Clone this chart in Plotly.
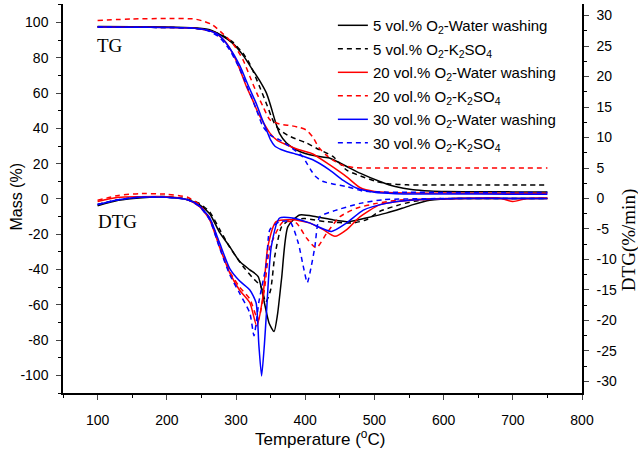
import plotly.graph_objects as go

# ---------------- TG data (Mass %, left axis) ----------------
tg_t_5ww = [100,150,200,240,262,280,295,310,324,335,344,350,356,363,373,387,400,416,435,460,480,508,530,556,580,605,650,700,750]
tg_m_5ww = [97.8,97.6,97.5,97.0,95.9,92.5,88.3,81.5,73.2,66.5,60,53,44.9,37,31.7,27.9,25.8,24.3,23.2,18.4,14.5,9.9,7.0,5.2,4.5,4.2,4.1,4.0,4.0]

tg_t_5ks = [100,150,200,240,260,280,295,310,320,334,345,351,356,363,375,390,402,420,440,460,480,503,520,547,570,600,650,700,750]
tg_m_5ks = [97.5,97.3,97.2,96.8,95.5,92.8,89,82.6,76.5,63.7,53,46.7,42.5,39.2,36,33.5,31.7,28,24.1,16.3,13,9.9,8.6,8.0,7.9,7.9,7.9,7.9,7.9]

tg_t_20ww = [100,150,200,240,260,271,285,295,305,315,324,332,340,349,360,373,390,411,435,460,479,500,530,560,600,650,700,750]
tg_m_20ww = [97.5,97.3,97.2,96.8,95.5,94,89,82.6,74,63.7,56,48.7,43,37.3,33,30.7,28,25.5,19.4,12.5,6.5,4.2,3.5,3.3,3.3,3.2,3.2,3.2]

tg_t_20ks = [100,150,200,240,255,266,280,295,310,320,330,339,349,363,380,392,402,411,420,430,440,455,470,490,520,560,600,650,700,750]
tg_m_20ks = [101.2,102,102.3,102,100.5,98.7,94,88.3,79,69.4,60,52.4,44.9,42.5,41.5,40.5,39,35,29,25,22,19,17.8,17.5,17.5,17.5,17.5,17.5,17.5,17.5]

tg_t_30ww = [100,150,200,240,260,275,290,305,318,329,337,344,350,356,365,373,390,411,435,455,474,500,530,600,700,750]
tg_m_30ww = [97.5,97.3,97.2,96.8,95.5,93,86,76,64,54.3,46,39.2,33.5,30,28,26.9,25,22.2,16.5,10.5,6.2,3.8,3.0,2.8,2.7,2.7]

tg_t_30ks = [100,150,200,240,260,275,290,305,320,330,339,350,363,380,395,402,408,415,425,440,460,483,510,550,600,700,750]
tg_m_30ks = [97.5,97.3,97.2,96.8,95.3,92,85,74,60,50,41,36,33.5,29,24.5,20.5,16.5,12.7,10,8.5,7,4.5,3.9,3.8,3.7,3.7,3.7]

# ---------------- DTG data (%/min, right axis) ----------------
dtg_t_5ww = [100,130,160,200,230,247,262,276,291,305,320,332,341,348,355,360,366,375,392,416,440,464,488,517,540,556,580,620,680,750]
dtg_d_5ww = [-1.2,-0.3,0.1,0.2,-0.2,-1.0,-2.5,-5.5,-7.9,-10.3,-11.7,-12.8,-17.1,-20.5,-21.8,-19,-13,-4.6,-2.7,-3.0,-3.5,-3.8,-3.2,-2.4,-1.6,-1.0,-0.3,0,0,0]

dtg_t_5ks = [100,130,160,200,230,247,262,276,291,310,324,336,343,350,356,366,378,400,430,469,488,508,537,570,620,680,750]
dtg_d_5ks = [-1.0,-0.2,0.2,0.3,-0.1,-0.8,-2.2,-5,-8,-11.1,-13,-14.4,-17,-15,-9.5,-4.6,-3.5,-3.3,-3.8,-4,-3.5,-2.1,-1.0,-0.2,0,0,0]

dtg_t_20ww = [100,130,160,200,230,247,262,276,291,305,320,330,339,346,358,382,406,426,443,460,479,508,540,566,620,680,700,720,750]
dtg_d_20ww = [-0.5,0.2,0.3,0.3,-0.2,-1.3,-3.5,-7.9,-12.2,-15,-17.1,-20.9,-16,-7.9,-3.8,-3.5,-4,-5.1,-6.2,-5.1,-3,-1,-0.4,-0.2,0,0.1,-0.5,0,0.1]

dtg_t_20ks = [100,130,160,200,230,247,262,276,291,305,320,332,341,349,368,387,402,416,431,450,474,503,532,600,700,750]
dtg_d_20ks = [-0.3,0.5,0.8,0.7,0.2,-1.0,-3.2,-7.5,-12,-14.5,-16.5,-19.9,-15,-8,-3.8,-4,-6.5,-8.1,-5.7,-3,-1.6,-0.8,-0.3,0,0,0]

dtg_t_30ww = [100,130,160,200,230,247,262,276,291,305,320,329,333,337,341,344,351,363,382,406,438,460,484,517,550,620,750]
dtg_d_30ww = [-1.0,-0.2,0.2,0.2,-0.2,-1.2,-3.2,-7.2,-11.5,-13.5,-15,-17.1,-24,-29.1,-24,-18.8,-7.9,-3.2,-3.2,-4,-5.4,-4,-1.9,-0.8,-0.3,0,0]

dtg_t_30ks = [100,130,160,200,230,247,262,276,291,305,320,326,333,344,349,363,378,390,397,403,409,414,421,440,479,513,600,750]
dtg_d_30ks = [-1.0,-0.2,0.2,0.2,-0.2,-1.3,-3.5,-8,-12.5,-15.5,-18.8,-22.5,-17,-10.6,-5.1,-3.8,-3.8,-7.3,-11,-13.8,-11,-7.9,-3,-2.1,-0.8,-0.2,0,0]

labels = [
    "5 vol.% O<sub>2</sub>-Water washing",
    "5 vol.% O<sub>2</sub>-K<sub>2</sub>SO<sub>4</sub>",
    "20 vol.% O<sub>2</sub>-Water washing",
    "20 vol.% O<sub>2</sub>-K<sub>2</sub>SO<sub>4</sub>",
    "30 vol.% O<sub>2</sub>-Water washing",
    "30 vol.% O<sub>2</sub>-K<sub>2</sub>SO<sub>4</sub>",
]

# tick values / labels (hyphen minus as in the reference)
x_ticks = [100, 200, 300, 400, 500, 600, 700, 800]
y1_ticks = [-100, -80, -60, -40, -20, 0, 20, 40, 60, 80, 100]
y2_ticks = [-30, -25, -20, -15, -10, -5, 0, 5, 10, 15, 20, 25, 30]

tg_series = [(tg_t_5ww, tg_m_5ww), (tg_t_5ks, tg_m_5ks), (tg_t_20ww, tg_m_20ww),
             (tg_t_20ks, tg_m_20ks), (tg_t_30ww, tg_m_30ww), (tg_t_30ks, tg_m_30ks)]
dtg_series = [(dtg_t_5ww, dtg_d_5ww), (dtg_t_5ks, dtg_d_5ks), (dtg_t_20ww, dtg_d_20ww),
              (dtg_t_20ks, dtg_d_20ks), (dtg_t_30ww, dtg_d_30ww), (dtg_t_30ks, dtg_d_30ks)]
colors = ["#000000", "#000000", "#ff0000", "#ff0000", "#0000ff", "#0000ff"]
dashes = ["solid", "5px,4px", "solid", "5px,4px", "solid", "5px,4px"]

fig = go.Figure()
for i in range(6):
    t, m = tg_series[i]
    fig.add_trace(go.Scatter(x=t, y=m, mode="lines", name=labels[i], legendgroup=f"g{i}",
                             line=dict(color=colors[i], dash=dashes[i], width=1.5, shape="spline", smoothing=0.6),
                             yaxis="y"))
for i in range(6):
    t, d = dtg_series[i]
    fig.add_trace(go.Scatter(x=t, y=d, mode="lines", name=labels[i], legendgroup=f"g{i}", showlegend=False,
                             line=dict(color=colors[i], dash=dashes[i], width=1.5, shape="spline", smoothing=0.6),
                             yaxis="y2"))

sans = "Liberation Sans, Arial, sans-serif"
serif = "Liberation Serif, Times New Roman, serif"
axfont = dict(family=sans, size=14, color="#000")
fig.update_layout(
    width=638, height=454,
    margin=dict(l=63, r=56, t=4, b=61, autoexpand=False),
    paper_bgcolor="white", plot_bgcolor="white",
    font=dict(family=sans, size=14, color="#000"),
    xaxis=dict(range=[50, 800], tickvals=x_ticks, ticktext=[str(v) for v in x_ticks],
               ticks="outside", ticklen=5, tickwidth=1.2, automargin=False, ticklabelstandoff=8,
               showline=True, linecolor="#000", linewidth=1.5, showgrid=False, zeroline=False,
               tickfont=axfont, mirror=False,
               minor=dict(dtick=50, tick0=0, ticks="outside", ticklen=3, tickcolor="#000")),
    xaxis2=dict(range=[50, 800], overlaying="x", side="top", tickvals=x_ticks, ticks="inside",
                ticklen=4, showticklabels=False, showline=True, linecolor="#000", linewidth=1.5,
                showgrid=False, zeroline=False, automargin=False,
                minor=dict(dtick=50, tick0=0, ticks="inside", ticklen=3, tickcolor="#000")),
    yaxis=dict(range=[-110, 110.5], tickvals=y1_ticks, ticktext=[str(v) for v in y1_ticks],
               ticks="outside", ticklen=5, tickwidth=1.2, automargin=False, ticklabelstandoff=5,
               showline=True, linecolor="#000", linewidth=1.5, showgrid=False, zeroline=False,
               tickfont=axfont,
               minor=dict(dtick=10, tick0=0, ticks="outside", ticklen=3, tickcolor="#000")),
    yaxis2=dict(range=[-31.9, 31.9], overlaying="y", side="right", tickvals=y2_ticks,
                ticktext=[str(v) for v in y2_ticks], ticks="outside", automargin=False,
                ticklabelstandoff=5,
                ticklen=5, tickwidth=1.2, showline=True, linecolor="#000", linewidth=1.5,
                showgrid=False, zeroline=False, tickfont=axfont,
                minor=dict(dtick=2.5, tick0=0, ticks="outside", ticklen=3, tickcolor="#000")),
    legend=dict(x=0.52, y=0.987, xanchor="left", yanchor="top", bgcolor="rgba(0,0,0,0)",
                font=dict(size=15), tracegroupgap=1, traceorder="grouped"),
    showlegend=True,
)

# axis titles
fig.add_annotation(x=0.4944, y=-0.115, xref="paper", yref="paper", text="Temperature (<sup>o</sup>C)",
                   showarrow=False, xanchor="center", yanchor="middle", font=dict(family=sans, size=17))
fig.add_annotation(x=-0.0886, y=0.505, xref="paper", yref="paper", text="Mass (%)", textangle=-90,
                   showarrow=False, xanchor="center", yanchor="middle", font=dict(family=sans, size=16))
fig.add_annotation(x=1.0906, y=0.393, xref="paper", yref="paper", text="DTG(%/min)", textangle=-90,
                   showarrow=False, xanchor="center", yanchor="middle", font=dict(family=serif, size=19))

tfont = dict(family=serif, size=19, color="#000")
fig.add_annotation(x=96, y=86.8, xref="x", yref="y", text="TG", showarrow=False, xanchor="left",
                   yanchor="middle", font=tfont)
fig.add_annotation(x=97, y=-12.6, xref="x", yref="y", text="DTG", showarrow=False, xanchor="left",
                   yanchor="middle", font=tfont)

fig.write_html("out.html", config={"displayModeBar": False},
               post_script="document.body.style.margin='0';")
